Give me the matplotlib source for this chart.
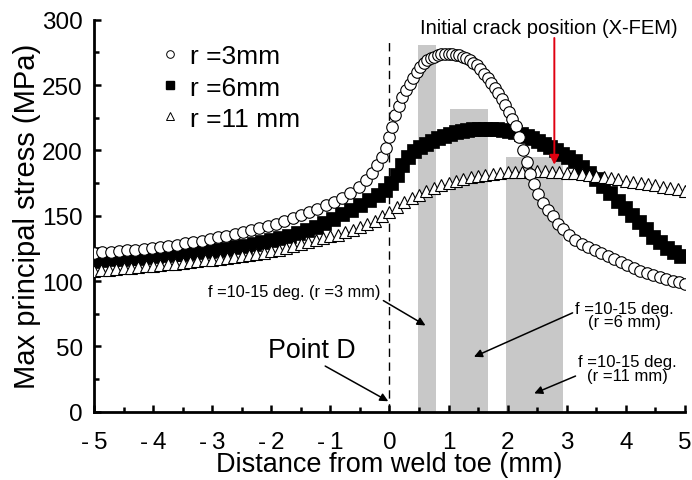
import matplotlib
matplotlib.use("Agg")
import matplotlib.pyplot as plt
from matplotlib.lines import Line2D
from matplotlib.ticker import MultipleLocator

plt.rcParams['font.family'] = ['Liberation Sans', 'DejaVu Sans']

# ---------------- data ----------------
x_r3 = [-5.00, -4.86, -4.72, -4.58, -4.44, -4.30, -4.16, -4.02, -3.88, -3.74,
        -3.60, -3.46, -3.32, -3.18, -3.04, -2.90, -2.76, -2.62, -2.48, -2.34,
        -2.20, -2.06, -1.92, -1.78, -1.64, -1.50, -1.36, -1.22, -1.08, -0.94,
        -0.80, -0.66, -0.52, -0.40, -0.30, -0.21, -0.13, -0.06, 0.00, 0.05,
        0.10, 0.16, 0.22, 0.28, 0.34, 0.40, 0.46, 0.52, 0.58, 0.64,
        0.70, 0.76, 0.82, 0.88, 0.94, 1.00, 1.06, 1.12, 1.18, 1.24,
        1.30, 1.36, 1.42, 1.48, 1.54, 1.60, 1.66, 1.72, 1.78, 1.84,
        1.90, 1.96, 2.02, 2.08, 2.14, 2.20, 2.26, 2.32, 2.38, 2.44,
        2.52, 2.60, 2.68, 2.76, 2.85, 2.94, 3.04, 3.14, 3.25, 3.36,
        3.47, 3.58, 3.69, 3.80, 3.91, 4.02, 4.13, 4.24, 4.35, 4.46,
        4.57, 4.68, 4.79, 4.90, 5.00]
y_r3 = [121.5, 122.0, 122.5, 123.0, 123.5, 124.0, 124.5, 125.0, 125.9, 126.8,
        127.8, 128.8, 129.7, 130.7, 132.0, 133.4, 134.8, 136.2, 137.7, 139.2,
        140.7, 142.2, 143.8, 145.8, 147.9, 150.2, 152.6, 155.1, 157.8, 160.6,
        163.8, 167.5, 172.0, 177.0, 182.5, 188.5, 195.0, 202.0, 210.0, 218.0,
        227.0, 234.0, 240.5, 246.0, 251.0, 255.5, 260.0, 263.5, 266.5, 268.8,
        270.5, 271.8, 272.8, 273.4, 273.8, 274.0, 273.8, 273.3, 272.6, 271.8,
        270.5, 269.0, 267.2, 265.0, 262.0, 258.8, 255.0, 251.5, 248.0, 244.0,
        239.5, 234.5, 229.5, 224.0, 218.5, 210.0, 200.0, 191.0, 182.0, 174.5,
        166.5, 160.0, 154.5, 149.5, 144.0, 139.5, 135.0, 131.5, 128.5, 126.0,
        123.8, 121.5, 119.3, 117.0, 114.5, 112.0, 109.6, 107.8, 106.0, 104.4,
        102.8, 101.4, 100.2, 99.0, 98.0]

x_r6 = [-5.00, -4.85, -4.70, -4.55, -4.40, -4.25, -4.10, -3.95, -3.80, -3.65,
        -3.50, -3.35, -3.20, -3.05, -2.90, -2.75, -2.60, -2.45, -2.30, -2.15,
        -2.00, -1.85, -1.70, -1.55, -1.40, -1.25, -1.10, -0.95, -0.80, -0.65,
        -0.50, -0.35, -0.20, -0.08, 0.02, 0.12, 0.22, 0.32, 0.42, 0.52,
        0.62, 0.72, 0.82, 0.92, 1.02, 1.12, 1.22, 1.32, 1.42, 1.52,
        1.62, 1.72, 1.82, 1.92, 2.02, 2.12, 2.22, 2.32, 2.42, 2.52,
        2.62, 2.72, 2.82, 2.92, 3.02, 3.14, 3.26, 3.38, 3.50, 3.62,
        3.74, 3.86, 3.98, 4.10, 4.22, 4.34, 4.46, 4.58, 4.70, 4.82, 4.94]
y_r6 = [115.5, 116.0, 116.5, 117.0, 117.5, 118.0, 118.6, 119.2, 119.8, 120.4,
        121.0, 121.7, 122.4, 123.1, 123.9, 124.8, 125.8, 127.0, 128.3, 129.8,
        131.3, 132.8, 134.5, 136.5, 138.8, 141.5, 144.5, 147.8, 151.0, 154.5,
        158.0, 162.0, 166.0, 170.0, 175.0, 181.5, 189.0, 195.0, 199.5, 202.5,
        205.0, 207.2, 209.2, 211.0, 212.5, 213.8, 214.8, 215.5, 216.0, 216.3,
        216.4, 216.3, 216.0, 215.5, 214.8, 213.8, 212.5, 211.0, 209.3, 207.3,
        205.0, 202.5, 200.0, 197.5, 195.0, 191.5, 187.5, 183.0, 178.0, 172.5,
        167.0, 161.5, 156.0, 150.5, 145.0, 139.5, 134.0, 129.5, 125.5, 122.0, 119.0]

x_r11 = [-5.000, -4.875, -4.750, -4.625, -4.500, -4.375, -4.250, -4.125, -4.000,
         -3.875, -3.750, -3.625, -3.500, -3.375, -3.250, -3.125, -3.000,
         -2.875, -2.750, -2.625, -2.500, -2.375, -2.250, -2.125, -2.000,
         -1.875, -1.750, -1.625, -1.500, -1.375, -1.250, -1.125, -1.000,
         -0.875, -0.750, -0.625, -0.500, -0.375, -0.250, -0.125, 0.000,
         0.125, 0.250, 0.375, 0.500, 0.625, 0.750, 0.875, 1.000,
         1.125, 1.250, 1.375, 1.500, 1.625, 1.750, 1.875, 2.000,
         2.125, 2.250, 2.375, 2.500, 2.625, 2.750, 2.875, 3.000,
         3.125, 3.250, 3.375, 3.500, 3.625, 3.750, 3.875, 4.000,
         4.125, 4.250, 4.375, 4.500, 4.625, 4.750, 4.875, 5.000]
y_r11 = [107.8, 108.3, 108.8, 109.3, 109.8, 110.3, 110.8, 111.3, 111.8,
         112.3, 112.8, 113.4, 114.0, 114.6, 115.2, 115.8, 116.4,
         117.0, 117.7, 118.4, 119.2, 120.0, 120.9, 121.8, 122.8,
         123.8, 125.2, 126.8, 128.3, 129.8, 131.3, 132.8, 134.2,
         135.6, 137.2, 139.0, 141.0, 143.3, 146.0, 149.5, 153.0,
         157.0, 160.5, 163.5, 166.2, 168.8, 171.2, 173.5, 175.3,
         176.8, 178.2, 179.4, 180.4, 181.3, 182.0, 182.6, 183.1,
         183.5, 183.8, 184.0, 184.0, 183.9, 183.7, 183.4, 183.0,
         182.5, 181.9, 181.2, 180.4, 179.5, 178.6, 177.7, 176.8,
         175.9, 175.0, 174.1, 173.2, 172.2, 171.2, 170.2, 169.2]

# shaded ranges (phi = 10-15 deg.)
band_left = [0.49, 1.02, 1.97]
band_right = [0.78, 1.66, 2.93]
band_top = [281, 232, 195]

series_labels = ['r =3mm', 'r =6mm', 'r =11 mm']
xtick_values = [-5, -4, -3, -2, -1, 0, 1, 2, 3, 4, 5]
xtick_labels = ['-\u20095', '-\u20094', '-\u20093', '-\u20092', '-\u20091',
                '0', '1', '2', '3', '4', '5']
ytick_values = [0, 50, 100, 150, 200, 250, 300]

crack_x = 2.79

# ---------------- figure ----------------
fig = plt.figure(figsize=(6.92, 4.81), dpi=100)
ax = fig.add_axes([0.1358, 0.142, 0.854, 0.815])

widths = [r - l for l, r in zip(band_left, band_right)]
ax.bar(band_left, band_top, width=widths, align='edge', color='#c8c8c8',
       edgecolor='none', zorder=1)

ax.plot(x_r6, y_r6, linestyle='none', marker='s', ms=9.5, mfc='black',
        mec='black', mew=0.5, zorder=3)
ax.plot(x_r11, y_r11, linestyle='none', marker='^', ms=9, mfc='white',
        mec='black', mew=0.8, zorder=4)
ax.plot(x_r3, y_r3, linestyle='none', marker='o', ms=8.3, mfc='white',
        mec='black', mew=0.8, zorder=5)

# vertical dashed line at weld toe
ax.plot([0, 0], [0, 285], color='black', lw=1.0, ls=(0, (6, 4)), zorder=2)

ax.set_xlim(-5, 5)
ax.set_ylim(0, 300)
ax.set_xticks(xtick_values)
ax.set_xticklabels(xtick_labels)
ax.set_yticks(ytick_values)
ax.xaxis.set_minor_locator(MultipleLocator(0.5))
ax.yaxis.set_minor_locator(MultipleLocator(25))

for s in ['top', 'right']:
    ax.spines[s].set_visible(False)
for s in ['left', 'bottom']:
    ax.spines[s].set_linewidth(2.0)

ax.tick_params(axis='both', which='major', direction='in', length=5,
               width=1.8, labelsize=17.5)
ax.tick_params(axis='x', which='major', pad=14)
ax.tick_params(axis='y', which='major', pad=8)
ax.tick_params(axis='both', which='minor', direction='in', length=3.5,
               width=1.8)

ax.set_xlabel('Distance from weld toe (mm)', fontsize=19.5, labelpad=-1.5)
ax.set_ylabel('Max principal stress (MPa)', fontsize=21, labelpad=1)

# legend
handles = [
    Line2D([], [], ls='none', marker='o', ms=5.5, mfc='white', mec='black', mew=0.7),
    Line2D([], [], ls='none', marker='s', ms=6, mfc='black', mec='black'),
    Line2D([], [], ls='none', marker='^', ms=6, mfc='white', mec='black', mew=0.7),
]
ax.legend(handles, series_labels, loc='upper left', bbox_to_anchor=(0.108, 0.937),
          frameon=False, fontsize=19, handlelength=0.95, handletextpad=0.28,
          labelspacing=0.27, borderpad=0, borderaxespad=0)

# annotations
arrow_k = dict(arrowstyle='-|>', color='black', lw=1.1,
               mutation_scale=12, shrinkA=0, shrinkB=0)
ax.annotate('f =10-15 deg. (r =3 mm)', xy=(0.61, 66), xytext=(-0.15, 92),
            ha='right', va='center', fontsize=11.8,
            arrowprops=dict(arrow_k, relpos=(1.0, 0.0)))
ax.annotate('f =10-15 deg.\n(r =6 mm)', xy=(1.43, 42), xytext=(3.98, 74),
            ha='center', va='center', fontsize=12, linespacing=0.85,
            arrowprops=dict(arrow_k, relpos=(0.0, 0.62)))
ax.annotate('f =10-15 deg.\n(r =11 mm)', xy=(2.45, 14), xytext=(4.03, 33),
            ha='center', va='center', fontsize=12, linespacing=0.85,
            arrowprops=dict(arrow_k, relpos=(0.05, 0.35)))
ax.annotate('Point D', xy=(-0.02, 8), xytext=(-1.32, 47),
            ha='center', va='center', fontsize=19.3,
            arrowprops=dict(arrow_k, relpos=(0.6, 0.0)))

ax.annotate('', xy=(crack_x, 189), xytext=(crack_x, 286),
            arrowprops=dict(arrowstyle='-|>', color='#e00010', lw=1.4,
                            mutation_scale=14, shrinkA=0, shrinkB=0))
ax.text(2.69, 294, 'Initial crack position (X-FEM)', ha='center', va='center',
        fontsize=14.5)

fig.savefig('out.png', dpi=100)
